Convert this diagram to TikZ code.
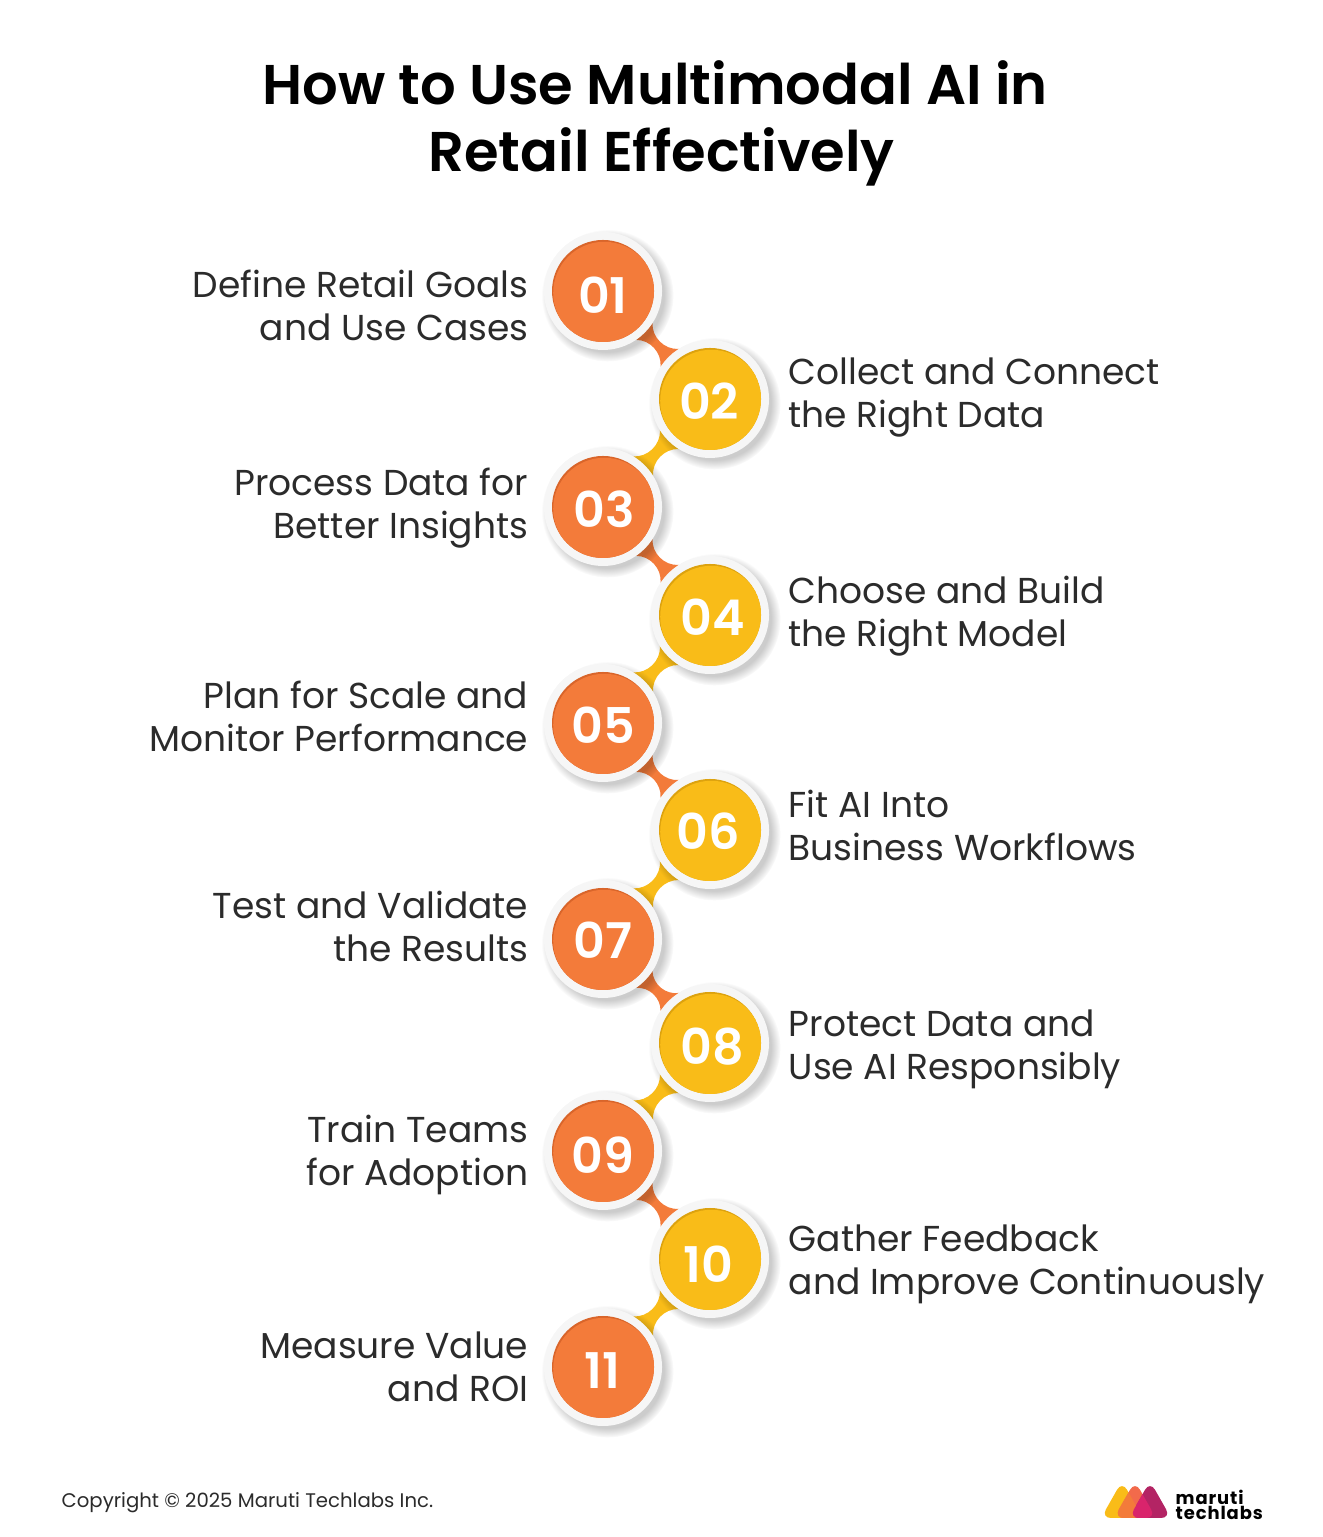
\documentclass[tikz,border=0pt]{standalone}
\usepackage{fontspec}
\setmainfont{Poppins}
\newfontfamily\semifont{Poppins SemiBold}
\usetikzlibrary{shadows,backgrounds}
\definecolor{stepor}{HTML}{F37B3A}
\definecolor{stepordk}{HTML}{D9652A}
\definecolor{stepye}{HTML}{F9BC18}
\definecolor{stepyedk}{HTML}{DDA20E}
\definecolor{ringgray}{HTML}{F6F6F6}
\definecolor{textgray}{HTML}{2B2B2B}
\definecolor{logoye}{HTML}{F9BC18}
\definecolor{logore}{HTML}{F26A4B}
\definecolor{logoma}{HTML}{B32464}
\definecolor{logoov}{HTML}{D9246C}
\tikzset{
  ringnode/.style={circle,inner sep=0pt,outer sep=0pt,minimum size=1.18cm,fill=ringgray,
    circular drop shadow={shadow xshift=.04cm,shadow yshift=-.04cm,shadow scale=1.12,fill=black,opacity=.2}},
  ornode/.style={circle,inner sep=0pt,outer sep=0pt,minimum size=1.02cm,fill=stepordk,
    path picture={\fill[stepor] ([xshift=.012cm,yshift=-.018cm]path picture bounding box.center) circle (.51);}},
  yenode/.style={circle,inner sep=0pt,outer sep=0pt,minimum size=1.02cm,fill=stepyedk,
    path picture={\fill[stepye] ([xshift=.012cm,yshift=-.018cm]path picture bounding box.center) circle (.51);}},
  numnode/.style={inner sep=0pt,text=white,font=\fontsize{14pt}{14pt}\semifont},
  leftlab/.style={inner sep=0pt,anchor=east,align=right,text=textgray,font=\fontsize{10.25pt}{12.2pt}\selectfont},
  rightlab/.style={inner sep=0pt,anchor=west,align=left,text=textgray,font=\fontsize{10.25pt}{12.2pt}\selectfont},
  titlenode/.style={inner sep=0pt,text=black,font=\fontsize{15.93pt}{18pt}\semifont},
  orlink/.style={fill=stepor},
  yelink/.style={fill=stepye},
  every to/.style={bend left=48}
}
\newcommand{\logotri}[1]{[rounded corners=.1cm] (#1-.21,.19) -- (#1,.56) -- (#1+.21,.19) -- cycle}
\begin{document}
\begin{tikzpicture}[x=1cm,y=1cm]
  \useasboundingbox (0,0) rectangle (13.22,15.37);
  % title
  \node[titlenode] (title1) at (6.55,14.54) {How to Use Multimodal AI in};
  \node[titlenode] (title2) at (6.615,13.80) {Retail Effectively};
  % rings
  \node[ringnode] (r01) at (6.03,12.46) {};
  \node[ringnode] (r02) at (7.10,11.38) {};
  \node[ringnode] (r03) at (6.03,10.30) {};
  \node[ringnode] (r04) at (7.10,9.22) {};
  \node[ringnode] (r05) at (6.03,8.14) {};
  \node[ringnode] (r06) at (7.10,7.07) {};
  \node[ringnode] (r07) at (6.03,5.98) {};
  \node[ringnode] (r08) at (7.10,4.94) {};
  \node[ringnode] (r09) at (6.03,3.86) {};
  \node[ringnode] (r10) at (7.10,2.78) {};
  \node[ringnode] (r11) at (6.03,1.70) {};
  % discs
  \node[ornode] (d01) at (r01) {};
  \node[yenode] (d02) at (r02) {};
  \node[ornode] (d03) at (r03) {};
  \node[yenode] (d04) at (r04) {};
  \node[ornode] (d05) at (r05) {};
  \node[yenode] (d06) at (r06) {};
  \node[ornode] (d07) at (r07) {};
  \node[yenode] (d08) at (r08) {};
  \node[ornode] (d09) at (r09) {};
  \node[yenode] (d10) at (r10) {};
  \node[ornode] (d11) at (r11) {};
  % links
  \begin{pgfonlayer}{background}
    \fill[orlink] (r01.-56) to (r02.147) -- (r02.122) to (r01.-33) -- cycle;
    \fill[yelink] (r02.212) to (r03.59) -- (r03.32) to (r02.238) -- cycle;
    \fill[orlink] (r03.-56) to (r04.147) -- (r04.122) to (r03.-33) -- cycle;
    \fill[yelink] (r04.212) to (r05.59) -- (r05.32) to (r04.238) -- cycle;
    \fill[orlink] (r05.-56) to (r06.147) -- (r06.122) to (r05.-33) -- cycle;
    \fill[yelink] (r06.212) to (r07.59) -- (r07.32) to (r06.238) -- cycle;
    \fill[orlink] (r07.-56) to (r08.147) -- (r08.122) to (r07.-33) -- cycle;
    \fill[yelink] (r08.212) to (r09.59) -- (r09.32) to (r08.238) -- cycle;
    \fill[orlink] (r09.-56) to (r10.147) -- (r10.122) to (r09.-33) -- cycle;
    \fill[yelink] (r10.212) to (r11.59) -- (r11.32) to (r10.238) -- cycle;
  \end{pgfonlayer}
  % numbers
  \node[numnode] (n01) at (6.03,12.42) {01};
  \node[numnode] (n02) at (7.09,11.36) {02};
  \node[numnode] (n03) at (6.04,10.28) {03};
  \node[numnode] (n04) at (7.13,9.20) {04};
  \node[numnode] (n05) at (6.03,8.12) {05};
  \node[numnode] (n06) at (7.08,7.06) {06};
  \node[numnode] (n07) at (6.03,5.97) {07};
  \node[numnode] (n08) at (7.12,4.90) {08};
  \node[numnode] (n09) at (6.03,3.82) {09};
  \node[numnode] (n10) at (7.08,2.73) {10};
  \node[numnode] (n11) at (6.02,1.66) {11};
  % labels
  \node[leftlab] (t01) at (5.29,12.32) {Define Retail Goals\\and Use Cases};
  \node[rightlab] (t02) at (7.88,11.39) {Collect and Connect\\the Right Data};
  \node[leftlab] (t03) at (5.29,10.29) {Process Data for\\Better Insights};
  \node[rightlab] (t04) at (7.88,9.21) {Choose and Build\\the Right Model};
  \node[leftlab] (t05) at (5.29,8.21) {Plan for Scale and\\Monitor Performance};
  \node[rightlab] (t06) at (7.88,7.115) {Fit AI Into\\Business Workflows};
  \node[leftlab] (t07) at (5.29,6.105) {Test and Validate\\the Results};
  \node[rightlab] (t08) at (7.88,4.88) {Protect Data and\\Use AI Responsibly};
  \node[leftlab] (t09) at (5.29,3.82) {Train Teams\\for Adoption};
  \node[rightlab] (t10) at (7.88,2.73) {Gather Feedback\\and Improve Continuously};
  \node[leftlab] (t11) at (5.29,1.70) {Measure Value\\and ROI};
  % footer
  \node[inner sep=0pt,anchor=west,text=textgray,font=\fontsize{5.6pt}{7pt}\selectfont] (copy) at (.61,.34) {Copyright © 2025 Maruti Techlabs Inc.};
  % logo
  \fill[logoye] \logotri{11.22};
  \fill[logore] \logotri{11.35};
  \fill[logoma] \logotri{11.50};
  \begin{scope}
    \clip \logotri{11.22};
    \fill[stepor] \logotri{11.35};
  \end{scope}
  \begin{scope}
    \clip \logotri{11.35};
    \fill[logoov] \logotri{11.50};
  \end{scope}
  \node[inner sep=0pt,anchor=west,align=left,text=black,font=\fontsize{5.1pt}{4.3pt}\selectfont\bfseries\addfontfeature{LetterSpace=5}] (logotext) at (11.75,.32) {maruti\\techlabs};
\end{tikzpicture}
\end{document}
